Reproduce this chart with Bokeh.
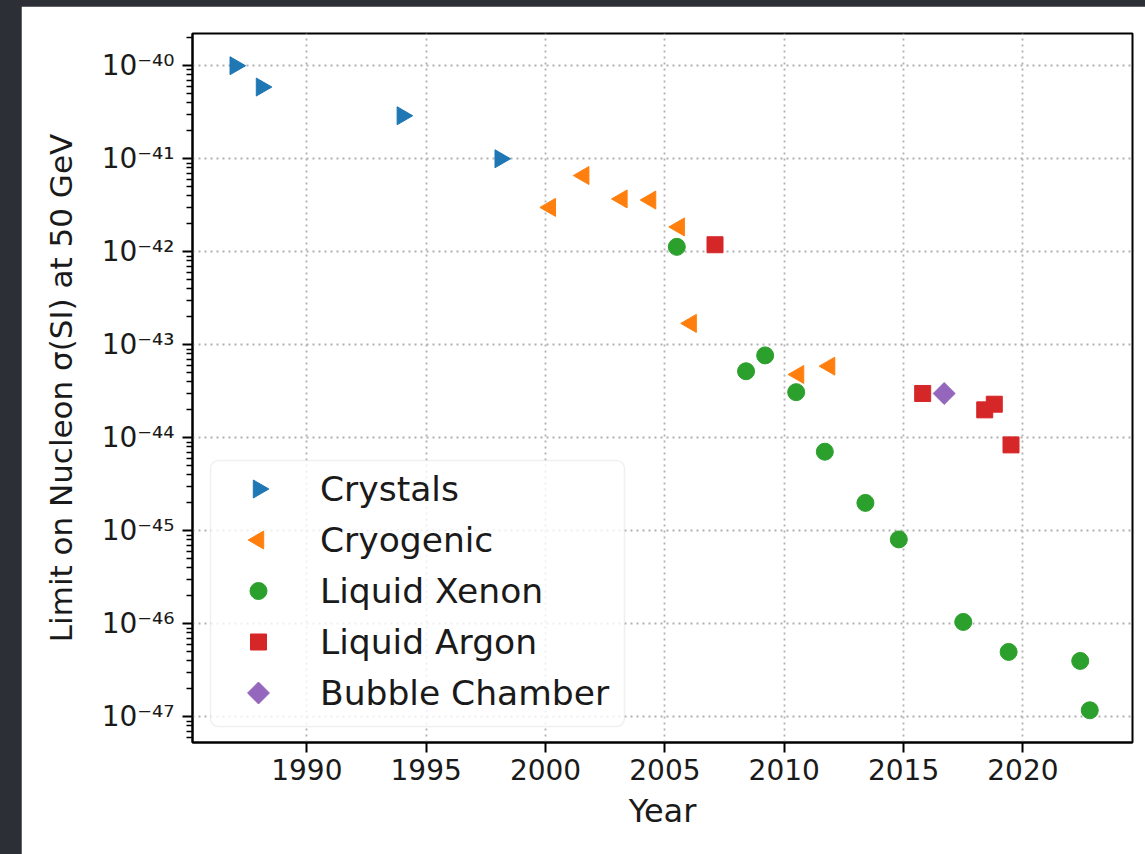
import math

from bokeh.embed import file_html
from bokeh.layouts import column
from bokeh.models import (BoxAnnotation, ColumnDataSource, CustomJSTickFormatter,
                          FixedTicker, Legend, LegendItem, Range1d)
from bokeh.plotting import figure
from bokeh.resources import INLINE

# Year of each result and its spin-independent limit (cm^2) at 50 GeV
crystals_year = [1987.0, 1988.1, 1994.0, 1998.1]
crystals_limit = [1.0e-40, 5.9e-41, 2.9e-41, 1.0e-41]

cryogenic_year = [2000.2, 2001.6, 2003.2, 2004.4, 2005.6, 2006.1, 2010.6, 2011.9]
cryogenic_limit = [3.0e-42, 6.6e-42, 3.7e-42, 3.6e-42, 1.85e-42, 1.7e-43, 4.8e-44, 5.9e-44]

xenon_year = [2005.5, 2008.4, 2009.2, 2010.5, 2011.7, 2013.4, 2014.8, 2017.5, 2019.4, 2022.4, 2022.8]
xenon_limit = [1.13e-42, 5.2e-44, 7.7e-44, 3.1e-44, 7.1e-45, 2.0e-45, 8.1e-46, 1.05e-46, 5.0e-47, 4.0e-47, 1.18e-47]

argon_year = [2007.1, 2015.8, 2018.4, 2018.8, 2019.5]
argon_limit = [1.19e-42, 3.0e-44, 2.0e-44, 2.3e-44, 8.4e-45]

bubble_year = [2016.7]
bubble_limit = [3.0e-44]

year_ticks = [1990, 1995, 2000, 2005, 2010, 2015, 2020]
decade_exponents = [-47, -46, -45, -44, -43, -42, -41, -40]

# marker styles for each family
families = [
    # label, years, limits, marker, angle, size, colour
    ("Crystals", crystals_year, crystals_limit, "triangle", -math.pi / 2, 18, "#1f77b4"),
    ("Cryogenic", cryogenic_year, cryogenic_limit, "triangle", math.pi / 2, 18, "#ff7f0e"),
    ("Liquid Xenon", xenon_year, xenon_limit, "circle", 0.0, 17, "#2ca02c"),
    ("Liquid Argon", argon_year, argon_limit, "square", 0.0, 16, "#d62728"),
    ("Bubble Chamber", bubble_year, bubble_limit, "square", math.pi / 4, 15.5, "#9467bd"),
]

all_years = [v for f in families for v in f[1]]
all_limits = [v for f in families for v in f[2]]

# 5 % padding around the data, in linear x and logarithmic y
x_lo, x_hi = min(all_years), max(all_years)
x_pad = 0.05 * (x_hi - x_lo)
x0, x1 = x_lo - x_pad, x_hi + x_pad
ly_lo, ly_hi = math.log10(min(all_limits)), math.log10(max(all_limits))
ly_pad = 0.05 * (ly_hi - ly_lo)
ly0, ly1 = ly_lo - ly_pad, ly_hi + ly_pad

FONT = "DejaVu Sans"
FIG_W, FIG_H = 1124, 848
B_LEFT, B_RIGHT, B_TOP, B_BOTTOM = 171, 13, 27, 112
FRAME_W = FIG_W - B_LEFT - B_RIGHT
FRAME_H = FIG_H - B_TOP - B_BOTTOM


def px_to_x(px):
    """Frame pixels from the left edge -> year."""
    return x0 + px / FRAME_W * (x1 - x0)


def px_to_y(px):
    """Frame pixels from the bottom edge -> limit (log axis)."""
    return 10 ** (ly0 + px / FRAME_H * (ly1 - ly0))


p = figure(
    width=FIG_W, height=FIG_H,
    y_axis_type="log",
    x_range=Range1d(x0, x1),
    y_range=Range1d(10 ** ly0, 10 ** ly1),
    output_backend="svg", toolbar_location=None,
    min_border_left=B_LEFT, min_border_right=B_RIGHT,
    min_border_top=B_TOP, min_border_bottom=B_BOTTOM,
    margin=(6, 0, 0, 21),
)
p.background_fill_color = "white"
p.border_fill_color = "white"
p.outline_line_color = "black"
p.outline_line_width = 2

# axes
major_y = [10.0 ** e for e in decade_exponents]
minor_y = [k * 10.0 ** e for e in range(-48, -39) for k in range(2, 10)]
p.yaxis.ticker = FixedTicker(ticks=major_y, minor_ticks=minor_y)
p.xaxis.ticker = FixedTicker(ticks=year_ticks, minor_ticks=[])
p.yaxis.formatter = CustomJSTickFormatter(code="""
    const sup = {"-": "\u207b", "0": "\u2070", "1": "\u00b9", "2": "\u00b2", "3": "\u00b3",
                 "4": "\u2074", "5": "\u2075", "6": "\u2076", "7": "\u2077", "8": "\u2078", "9": "\u2079"};
    const e = Math.round(Math.log10(tick));
    return "10" + String(e).split("").map(c => sup[c]).join("");
""")

for ax in (p.xaxis, p.yaxis):
    ax.axis_line_color = "black"
    ax.axis_line_width = 2
    ax.major_tick_line_color = "black"
    ax.major_tick_line_width = 2
    ax.minor_tick_line_color = "black"
    ax.minor_tick_line_width = 1.5
    ax.major_tick_in = 0
    ax.major_tick_out = 10
    ax.minor_tick_in = 0
    ax.minor_tick_out = 6
    ax.major_label_text_font = FONT
    ax.major_label_text_font_size = "28px"
    ax.major_label_text_color = "#1a1a1a"
    ax.axis_label_text_font = FONT
    ax.axis_label_text_font_style = "normal"
    ax.axis_label_text_color = "#1a1a1a"

p.xaxis.axis_label = "Year"
p.yaxis.axis_label = "Limit on Nucleon σ(SI) at 50 GeV"
p.xaxis.axis_label_text_font_size = "32px"
p.yaxis.axis_label_text_font_size = "31px"
p.xaxis.major_label_standoff = 6
p.yaxis.major_label_standoff = 8
p.xaxis.axis_label_standoff = 9
p.yaxis.axis_label_standoff = 20

# dotted grid on the major ticks
for g in (p.xgrid, p.ygrid):
    g.grid_line_color = "#b0b0b0"
    g.grid_line_width = 1.8
    g.grid_line_dash = "2 4"

# legend frame: translucent rounded box behind the keys and labels
BOX_L, BOX_R, BOX_B, BOX_T = 18, 432, 16, 282
box = BoxAnnotation(
    left=px_to_x(BOX_L), right=px_to_x(BOX_R),
    bottom=px_to_y(BOX_B), top=px_to_y(BOX_T),
    fill_color="white", fill_alpha=0.8,
    line_color="#cccccc", line_width=1.5,
    level="underlay",
)
if "border_radius" in BoxAnnotation.properties():
    box.border_radius = 8
p.add_layout(box)

# experiment families
items = []
for label, years, limits, marker, angle, size, colour in families:
    p.scatter(years, limits, marker=marker, angle=angle, size=size, color=colour)
    # an empty stand-in keeps the legend row; its key is drawn below with the real angle
    stub = p.scatter([], [], marker=marker, size=size, fill_alpha=0, line_alpha=0)
    items.append(LegendItem(label=label, renderers=[stub]))

LEG_X, LEG_Y = 18, 20
LEG_PAD, ITEM_H, ITEM_GAP, GLYPH_W = 8, 43, 8, 80

legend = Legend(
    items=items,
    location=(LEG_X, LEG_Y),
    label_text_font=FONT,
    label_text_font_size="34.5px",
    label_text_color="#1a1a1a",
    glyph_width=GLYPH_W, glyph_height=ITEM_H, label_height=ITEM_H,
    label_standoff=22, spacing=ITEM_GAP, padding=LEG_PAD,
    border_line_alpha=0, background_fill_alpha=0,
)
p.add_layout(legend, "center")

# legend keys, placed on the rows of the legend
n = len(families)
key_px_x = LEG_X + LEG_PAD + GLYPH_W / 2
key_px_y = [LEG_Y + LEG_PAD + ITEM_H / 2 + (n - 1 - i) * (ITEM_H + ITEM_GAP) for i in range(n)]
keys = ColumnDataSource(dict(
    x=[px_to_x(key_px_x)] * n,
    y=[px_to_y(py) for py in key_px_y],
    marker=[f[3] for f in families],
    angle=[f[4] for f in families],
    size=[f[5] for f in families],
    color=[f[6] for f in families],
))
p.scatter("x", "y", marker="marker", angle="angle", size="size", color="color", source=keys)

page = column(p, styles={"background-color": "#2c2f35"})

with open("out.html", "w") as f:
    f.write(file_html(page, INLINE))
